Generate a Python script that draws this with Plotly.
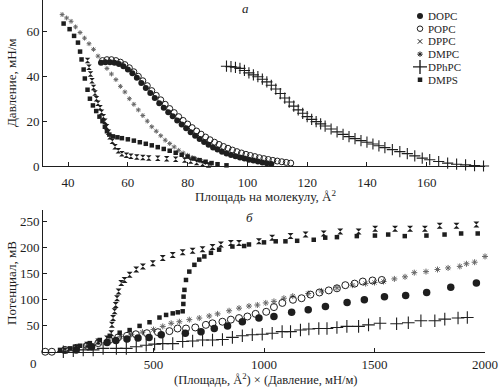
import plotly.graph_objects as go

# ---------------- DATA: panel (a) isotherms: area per molecule (A^2) vs pressure (mN/m)
dopc_a_x = [51, 52.5, 54, 55.5, 57, 58.5, 60, 61.5, 63, 64.5, 66, 67.5, 69, 70.5, 72, 73.5, 75, 76.5, 78, 79.5, 81, 82.5, 84, 85.5, 87, 88.5, 90, 91.5, 93, 94.5, 96, 97.5, 99, 100.5, 102, 103.5, 105, 106.5, 108]
dopc_a_y = [46, 46.3, 46.3, 46, 45.5, 44.5, 43, 41.3, 39.3, 37, 34.8, 32.5, 30.3, 28, 26, 24, 22.2, 20.3, 18.5, 16.8, 15, 13.5, 12, 10.7, 9.5, 8.3, 7.3, 6.4, 5.6, 4.9, 4.3, 3.8, 3.3, 2.8, 2.4, 2, 1.6, 1.2, 0.9]

popc_a_x = [51.5, 53, 54.5, 56, 57.5, 59, 60.5, 62, 63.5, 65, 66.5, 68, 69.5, 71, 72.5, 74, 75.5, 77, 78.5, 80, 81.5, 83, 84.5, 86, 87.5, 89, 90.5, 92, 93.5, 95, 96.5, 98, 99.5, 101, 102.5, 104, 105.5, 107, 108.5, 110, 111.5, 113, 114.5]
popc_a_y = [47, 47.4, 47.4, 47, 46.3, 45.2, 43.8, 42, 40, 38, 35.8, 33.6, 31.5, 29.5, 27.5, 25.6, 23.8, 22, 20.3, 18.7, 17.1, 15.6, 14.2, 12.9, 11.7, 10.6, 9.6, 8.7, 7.9, 7.1, 6.4, 5.8, 5.2, 4.7, 4.2, 3.7, 3.3, 2.9, 2.5, 2.2, 1.9, 1.6, 1.3]

dppc_a_x = [46.5, 47, 47.5, 48, 48.5, 49, 49.5, 50, 50.7, 51.2, 51.8, 52.3, 52.9, 53.5, 54, 54.8, 55.7, 56.8, 58, 59.5, 61, 63, 65, 67, 70, 73, 76, 79, 81, 83, 85, 87]
dppc_a_y = [47, 44, 41, 38, 35, 32.5, 30, 28, 26, 24, 22, 20, 17.5, 15, 13, 11, 8.6, 6.8, 5.5, 4.8, 4.3, 4, 3.8, 3.6, 3.4, 3.2, 3, 2.7, 2.2, 1.6, 1, 0.5]

dmpc_a_x = [38, 39.5, 41, 42.5, 44, 45.5, 47, 48.5, 50, 51.5, 53, 54.5, 56, 57.5, 59, 60.5, 62, 63.5, 65, 66.5, 68, 69.5, 71, 72.5, 74, 75.5, 77, 78.5, 80, 81.5, 83, 84.5, 86, 87.5]
dmpc_a_y = [67.5, 66, 64.5, 62, 59.5, 57, 54.5, 52, 49, 46, 43.5, 41, 38.5, 35.5, 33, 30, 27.5, 25, 22.5, 20, 17.5, 15.5, 13.5, 11.5, 10, 8.5, 7, 5.8, 4.8, 3.8, 3, 2.2, 1.5, 0.8]

dphpc_a_x = [93, 94.5, 96, 97.5, 99, 100.5, 102, 103.5, 105, 106.5, 108, 109.5, 111, 112.5, 114, 115.5, 117, 118.5, 120, 121.5, 123, 124.5, 126, 128, 130, 132, 134, 136, 138, 140, 142, 144, 146, 148.5, 151, 153.5, 156, 158.5, 161, 164, 167, 170, 173, 176, 179]
dphpc_a_y = [44.5, 44.3, 44, 43.5, 42.6, 41.5, 40.6, 39.8, 38.7, 37.5, 36, 34.3, 32.3, 30.3, 28.5, 26.7, 25, 23.5, 22, 20.8, 19.8, 18.8, 17.8, 16.5, 15.2, 14.1, 13.1, 12.2, 11.3, 10.6, 9.8, 9, 8.2, 7.3, 6.4, 5.5, 4.5, 3.5, 2.8, 2, 1.3, 0.8, 0.5, 0.2, 0]

dmps_a_x = [38.5, 40.5, 42, 43.3, 44, 44.5, 45.2, 45.6, 46.5, 47.3, 48.3, 49.4, 50.5, 51.5, 52.3, 53, 53.8, 55, 56.5, 58, 60, 62, 64, 66, 68, 70, 72, 74, 76, 78, 80, 82, 84, 86, 88, 90, 93]
dmps_a_y = [63.5, 61, 58, 55, 51, 47.5, 43, 39, 34, 30, 27, 24.5, 22, 20, 17.5, 15.5, 14, 13.2, 12.8, 12.4, 11.9, 11.3, 10.6, 9.9, 9.2, 8.4, 7.6, 6.8, 5.9, 5, 4.2, 3.3, 2.6, 1.9, 1.3, 0.8, 0.3]

# ---------------- DATA: panel (б) potential (mV) vs area x pressure
dopc_b_x = [150, 220, 290, 330, 380, 430, 480, 535, 644, 715, 775, 835, 902, 977, 1045, 1125, 1200, 1278, 1376, 1454, 1545, 1641, 1736, 1845, 1961]
dopc_b_y = [4, 10, 18, 22, 25, 27, 28, 33, 36, 39, 45, 50, 58, 65, 68, 76, 81, 87, 95, 100, 106, 108, 114, 124, 132]

popc_b_x = [10, 40, 100, 150, 200, 250, 300, 340, 380, 420, 470, 520, 572, 609, 647, 689, 737, 767, 812, 850, 887, 925, 962, 1010, 1045, 1083, 1131, 1170, 1210, 1251, 1293, 1330, 1368, 1410, 1447, 1491, 1533]
popc_b_y = [0.5, 0.5, 4, 8, 12, 17, 23, 28, 31, 34, 36, 38, 40, 45, 45, 47, 52, 55, 58, 62, 65, 68, 73, 77, 86, 94, 100, 103, 110, 114, 118, 122, 128, 131, 135, 137, 138]

dppc_b_x = [100, 150, 200, 250, 290, 309, 312, 317, 324, 329, 335, 342, 354, 369, 392, 422, 452, 497, 542, 587, 632, 677, 722, 767, 805, 850, 887, 977, 1037, 1120, 1188, 1270, 1345, 1428, 1503, 1593, 1661, 1728, 1795, 1871, 1961]
dppc_b_y = [3, 8, 14, 20, 26, 36, 52, 65, 78, 90, 103, 116, 132, 138, 148, 158, 164, 170, 180, 186, 191, 194, 197, 201, 206, 209, 209, 212, 219, 222, 225, 227, 231, 231, 236, 236, 236, 236, 242, 242, 244]

dmpc_b_x = [100, 150, 200, 250, 300, 350, 400, 450, 500, 542, 580, 617, 662, 707, 752, 790, 842, 887, 932, 970, 1008, 1045, 1090, 1130, 1200, 1260, 1330, 1400, 1460, 1500, 1541, 1590, 1638, 1680, 1733, 1785, 1833, 1886, 1916, 1953, 2000]
dmpc_b_y = [3, 8, 13, 19, 25, 30, 34, 38, 43, 49, 55, 58, 62, 65, 69, 73, 79, 84, 88, 90, 94, 97, 103, 107, 112, 117, 123, 128, 131, 133, 135, 140, 144, 152, 154, 158, 161, 164, 169, 172, 183]

dphpc_b_x = [92, 137, 182, 227, 272, 332, 377, 422, 467, 505, 542, 587, 632, 677, 722, 767, 812, 857, 902, 947, 992, 1037, 1082, 1120, 1165, 1203, 1248, 1285, 1330, 1375, 1428, 1473, 1525, 1600, 1653, 1710, 1773, 1818, 1878, 1920]
dphpc_b_y = [0.6, 2.5, 4, 4, 7, 7, 7, 10, 13, 15, 16, 16, 20, 21, 23, 23, 24, 28, 31, 33, 34, 36, 39, 39, 42, 44, 45, 45, 47, 49, 49, 52, 55, 54, 56, 60, 60, 63, 65, 66]

dmps_b_x = [77, 122, 167, 212, 257, 302, 347, 392, 437, 482, 527, 557, 587, 610, 632, 635, 636, 640, 647, 662, 685, 707, 730, 760, 797, 857, 910, 932, 1000, 1053, 1097, 1150, 1225, 1277, 1330, 1420, 1502, 1562, 1637, 1735, 1817, 1892, 1967]
dmps_b_y = [4, 7, 12, 17, 23, 31, 37, 42, 50, 57, 66, 71, 74, 76, 78, 92, 106, 119, 138, 154, 167, 177, 183, 190, 196, 202, 203, 206, 210, 212, 212, 213, 215, 219, 220, 222, 223, 225, 222, 223, 225, 227, 227]

# tick labels / texts
top_xticks = [40, 60, 80, 100, 120, 140, 160]
top_yticks = [0, 20, 40, 60]
bot_xticks = [500, 1000, 1500, 2000]
bot_yticks = [50, 100, 150, 200, 250]
legend_names = ["DOPC", "POPC", "DPPC", "DMPC", "DPhPC", "DMPS"]

# ---------------- STYLES
INK = "#1e1e1e"
GRAY = "#666666"
FONT = "Liberation Serif"
styles = {
    "DOPC": dict(symbol="circle", size=6, color=INK, line=dict(width=0)),
    "POPC": dict(symbol="circle-open", size=6, color=INK, line=dict(width=1)),
    "DPPC": dict(symbol="hourglass", size=5.5, color=INK, line=dict(width=0)),
    "DMPC": dict(symbol="asterisk-open", size=4, color=GRAY, line=dict(width=1, color=GRAY)),
    "DPhPC": dict(symbol="cross-thin-open", size=8, color=INK, line=dict(width=1.1, color=INK)),
    "DMPS": dict(symbol="square", size=4.5, color=INK, line=dict(width=0)),
}
styles_b = dict(styles)
styles_b["DOPC"] = dict(symbol="circle", size=7.5, color=INK, line=dict(width=0))
styles_b["POPC"] = dict(symbol="circle-open", size=7, color=INK, line=dict(width=1))
styles_b["DPPC"] = dict(symbol="hourglass", size=6, color=INK, line=dict(width=0))
styles_b["DMPC"] = dict(symbol="asterisk-open", size=5, color=GRAY, line=dict(width=1, color=GRAY))
styles_b["DPhPC"] = dict(symbol="cross-thin-open", size=9, color=INK, line=dict(width=1.1, color=INK))

fig = go.Figure()

top = {
    "DMPC": (dmpc_a_x, dmpc_a_y), "DPhPC": (dphpc_a_x, dphpc_a_y), "POPC": (popc_a_x, popc_a_y),
    "DOPC": (dopc_a_x, dopc_a_y), "DPPC": (dppc_a_x, dppc_a_y), "DMPS": (dmps_a_x, dmps_a_y),
}
bot = {
    "DMPC": (dmpc_b_x, dmpc_b_y), "DPhPC": (dphpc_b_x, dphpc_b_y), "POPC": (popc_b_x, popc_b_y),
    "DOPC": (dopc_b_x, dopc_b_y), "DPPC": (dppc_b_x, dppc_b_y), "DMPS": (dmps_b_x, dmps_b_y),
}
for name, (xs, ys) in top.items():
    fig.add_trace(go.Scatter(x=xs, y=ys, mode="markers", name=name, marker=styles[name],
                             xaxis="x", yaxis="y", showlegend=False, cliponaxis=False))
for name, (xs, ys) in bot.items():
    fig.add_trace(go.Scatter(x=xs, y=ys, mode="markers", name=name, marker=styles_b[name],
                             xaxis="x2", yaxis="y2", showlegend=False, cliponaxis=False))

# custom compact legend on helper axes
leg_styles = dict(styles)
leg_styles["DOPC"] = dict(symbol="circle", size=6, color=INK, line=dict(width=0))
leg_styles["POPC"] = dict(symbol="circle-open", size=5.5, color=INK, line=dict(width=1))
leg_styles["DPPC"] = dict(symbol="x-thin-open", size=4.5, color=INK, line=dict(width=1, color=INK))
leg_styles["DMPC"] = dict(symbol="asterisk-open", size=4.5, color=INK, line=dict(width=1, color=INK))
leg_styles["DPhPC"] = dict(symbol="cross-thin-open", size=10, color=INK, line=dict(width=1.4, color=INK))
leg_styles["DMPS"] = dict(symbol="square", size=4.5, color=INK, line=dict(width=0))
for i, name in enumerate(legend_names):
    fig.add_trace(go.Scatter(x=[0.5], y=[i], mode="markers", marker=leg_styles[name],
                             xaxis="x3", yaxis="y3", showlegend=False, hoverinfo="skip"))

W, H = 500, 387
ML, MR, MT, MB = 43, 15, 0, 35
PW, PH = W - ML - MR, H - MT - MB


def px_to_paper_x(px):
    return (px - ML) / PW


def px_to_paper_y(py):
    return (H - MB - py) / PH


axis_common = dict(showline=True, linecolor=INK, linewidth=1, ticks="inside", ticklen=4,
                   tickcolor=INK, showgrid=False, zeroline=False,
                   tickfont=dict(family=FONT, size=13, color=INK))

fig.update_layout(
    width=W, height=H,
    margin=dict(l=ML, r=MR, t=MT, b=MB),
    paper_bgcolor="white", plot_bgcolor="white",
    font=dict(family=FONT, size=13, color=INK),
    xaxis=dict(domain=[0, 1], anchor="y", range=[31.6, 179.5], tickvals=top_xticks,
               ticklabelstandoff=4, **axis_common),
    yaxis=dict(domain=[px_to_paper_y(166), 1], anchor="x", range=[0, 74], tickvals=top_yticks, **axis_common),
    xaxis2=dict(domain=[0, 1], anchor="y2", range=[0, 2000], tickvals=bot_xticks, **axis_common),
    yaxis2=dict(domain=[0, px_to_paper_y(210)], anchor="x2", range=[0, 272], tickvals=bot_yticks, **axis_common),
    xaxis3=dict(domain=[px_to_paper_x(410), px_to_paper_x(430)], anchor="y3", range=[0, 1], visible=False),
    yaxis3=dict(domain=[px_to_paper_y(86), px_to_paper_y(9.6)], anchor="x3", range=[5.5, -0.5], visible=False),
    showlegend=False,
)

ann = []
for i, name in enumerate(legend_names):
    ann.append(dict(text=name, x=px_to_paper_x(426), xref="paper", xanchor="left", y=i, yref="y3",
                    yanchor="middle", showarrow=False, font=dict(family=FONT, size=11, color=INK)))


def label(text, px, py, size=13, angle=0):
    return dict(text=text, x=px_to_paper_x(px), y=px_to_paper_y(py), xref="paper", yref="paper",
                xanchor="center", yanchor="middle", textangle=angle, showarrow=False,
                font=dict(family=FONT, size=size, color=INK))


ann += [
    label("Давление, мН/м", 11, 83, angle=-90),
    label("Площадь на молекулу, Å<sup>2</sup>", 265, 196),
    label("Потенциал, мВ", 11, 283, angle=-90),
    label("(Площадь, Å<sup>2</sup>) × (Давление, мН/м)", 265, 379, size=12.5),
    label("<i>а</i>", 245, 9),
    label("<i>б</i>", 249, 217),
    label("0", 33, 363),
]
fig.update_layout(annotations=ann)

fig.write_html("out.html", config={"displayModeBar": False},
               post_script="document.body.style.margin='0px';document.body.style.padding='0px';")
